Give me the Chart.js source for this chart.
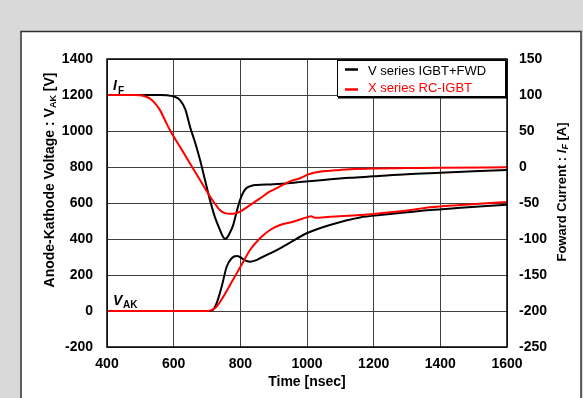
<!DOCTYPE html>
<html>
<head>
<meta charset="utf-8">
<script src="https://cdn.jsdelivr.net/npm/chart.js@4.4.1/dist/chart.umd.min.js"></script>
<style>
html,body{margin:0;padding:0;background:#d9d9d9;}
canvas{display:block;}
</style>
</head>
<body>
<canvas id="c" width="583" height="398"></canvas>
<script>
// ---- Data ----
const seriesNames = ["V series IGBT+FWD", "X series RC-IGBT"];
const xTicks = [400, 600, 800, 1000, 1200, 1400, 1600];
const leftTicks = [-200, 0, 200, 400, 600, 800, 1000, 1200, 1400];
const rightTicks = [-250, -200, -150, -100, -50, 0, 50, 100, 150];

// V series IGBT+FWD : forward current I_F [A]
const vIfTime = [400,500,560,580,600,619,635,649,665,679,694,709,724,739,748,754,762,770,779,789,799,809,819,834,849,900,979,1050,1129,1200,1300,1400,1500,1600];
const vIf     = [100,100,100,99.5,98,93,80,56,33,10,-18,-46,-70,-87.5,-97,-100,-97,-90,-80,-62,-46,-35,-29,-26,-25,-24,-21,-18,-15,-13,-10,-8,-6,-4];
// X series RC-IGBT : forward current I_F [A]
const xIfTime = [400,480,499,515,529,545,559,574,589,619,649,679,709,724,739,754,769,784,799,829,859,889,919,949,979,1000,1020,1039,1099,1129,1200,1300,1400,1600];
const xIf     = [100,100,99.5,98,95,88,79,65,51,28,5,-18,-41,-51,-60,-64,-65,-64.5,-62,-53,-43.5,-34,-27,-20,-15.7,-11,-8,-6.5,-4,-3,-2,-1.5,-1,-0.5];
// V series IGBT+FWD : anode-kathode voltage V_AK [V]
const vVakTime = [400,700,714,729,744,759,774,789,799,809,819,829,844,859,889,919,949,999,1069,1159,1219,1300,1369,1450,1600];
const vVak     = [0,0,2,44,135,246,293,305,300,287,278,274,280,293,320,348,380,432,478,520,533,548,561,572,590];
// X series RC-IGBT : anode-kathode voltage V_AK [V]
const xVakTime = [400,700,709,719,729,749,769,789,809,829,859,889,919,959,999,1012,1025,1069,1159,1219,1300,1369,1450,1600];
const xVak     = [0,0,2,10,24,80,144,209,274,339,404,450,478,496,520,526,518,524,533,543,558,576,588,605];

const pts = (t, v) => t.map((x, i) => ({x: x, y: v[i]}));

const FONT = "'Liberation Sans', Arial, sans-serif";

function drawRich(ctx, parts, x, y, angle) {
  ctx.save();
  ctx.translate(x, y);
  ctx.rotate(angle);
  let total = 0;
  parts.forEach(p => { ctx.font = p.font; total += ctx.measureText(p.t).width; });
  let cx = -total / 2;
  ctx.textBaseline = 'middle';
  ctx.textAlign = 'left';
  parts.forEach(p => {
    ctx.font = p.font;
    ctx.fillStyle = p.color || '#000';
    ctx.fillText(p.t, cx, p.dy || 0);
    cx += ctx.measureText(p.t).width;
  });
  ctx.restore();
}

const decor = {
  id: 'decor',
  beforeDraw(chart) {
    const ctx = chart.ctx;
    ctx.save();
    ctx.fillStyle = '#d9d9d9';
    ctx.fillRect(0, 0, chart.width, chart.height);
    ctx.fillStyle = '#ffffff';
    ctx.fillRect(21, 31, 560, 380);
    ctx.strokeStyle = '#303030';
    ctx.lineWidth = 1.5;
    ctx.strokeRect(21, 31.5, 560, 380);
    ctx.restore();
  },
  afterDatasetsDraw(chart) {
    const ctx = chart.ctx;
    const a = chart.chartArea;
    ctx.save();
    // frame
    ctx.strokeStyle = '#000';
    ctx.lineWidth = 1.5;
    ctx.strokeRect(a.left, a.top, a.right - a.left, a.bottom - a.top);
    // legend box
    ctx.fillStyle = '#fff';
    ctx.fillRect(337, 60, 169, 36);
    ctx.strokeStyle = '#000';
    ctx.lineWidth = 1;
    ctx.strokeRect(337.5, 60.5, 168, 36);
    ctx.lineWidth = 2;
    ctx.beginPath(); ctx.moveTo(506.5, 61); ctx.lineTo(506.5, 97.5); ctx.lineTo(338, 97.5); ctx.stroke();
    ctx.lineWidth = 2.5;
    ctx.strokeStyle = '#000';
    ctx.beginPath(); ctx.moveTo(345, 69.5); ctx.lineTo(358, 69.5); ctx.stroke();
    ctx.strokeStyle = '#ff0000';
    ctx.beginPath(); ctx.moveTo(345, 89.5); ctx.lineTo(358, 89.5); ctx.stroke();
    ctx.font = '13px ' + FONT;
    ctx.textBaseline = 'middle';
    ctx.textAlign = 'left';
    ctx.fillStyle = '#000';
    ctx.fillText(seriesNames[0], 368, 71);
    ctx.fillStyle = '#ff0000';
    ctx.fillText(seriesNames[1], 368, 88);
    // curve annotations
    ctx.fillStyle = '#000';
    ctx.textBaseline = 'alphabetic';
    ctx.font = 'italic bold 14px ' + FONT;
    ctx.fillText('I', 113, 90);
    ctx.font = 'bold 10px ' + FONT;
    ctx.fillText('F', 118, 94);
    ctx.font = 'italic bold 14px ' + FONT;
    ctx.fillText('V', 113, 305);
    ctx.font = 'bold 10px ' + FONT;
    ctx.fillText('AK', 123, 308);
    ctx.restore();
    // axis titles
    drawRich(ctx, [
      {t: 'Anode-Kathode Voltage : ', font: 'bold 14px ' + FONT},
      {t: 'V', font: 'bold 14px ' + FONT},
      {t: 'AK', font: 'bold 9px ' + FONT, dy: 4},
      {t: ' [V]', font: 'bold 14px ' + FONT}
    ], 50, 180, -Math.PI / 2);
    drawRich(ctx, [
      {t: 'Foward Current : ', font: 'bold 13px ' + FONT},
      {t: 'I', font: 'italic bold 13px ' + FONT},
      {t: 'F', font: 'italic bold 9px ' + FONT, dy: 4},
      {t: ' [A]', font: 'bold 13px ' + FONT}
    ], 562, 192, -Math.PI / 2);
    drawRich(ctx, [
      {t: 'Time [nsec]', font: 'bold 14px ' + FONT}
    ], 307, 382, 0);
  }
};

Chart.defaults.color = '#000';
Chart.defaults.font.family = FONT;

const plain = v => String(v);

new Chart(document.getElementById('c'), {
  type: 'line',
  data: {
    datasets: [
      {label: seriesNames[0] + ' I_F', data: pts(vIfTime, vIf), yAxisID: 'y2', borderColor: '#000', order: 2},
      {label: seriesNames[1] + ' I_F', data: pts(xIfTime, xIf), yAxisID: 'y2', borderColor: '#ff0000', order: 1},
      {label: seriesNames[0] + ' V_AK', data: pts(vVakTime, vVak), yAxisID: 'y', borderColor: '#000', order: 2},
      {label: seriesNames[1] + ' V_AK', data: pts(xVakTime, xVak), yAxisID: 'y', borderColor: '#ff0000', order: 1}
    ]
  },
  options: {
    responsive: false,
    animation: false,
    layout: {padding: {top: 59, left: 0, right: 0, bottom: 0}},
    elements: {
      point: {radius: 0},
      line: {borderWidth: 2, cubicInterpolationMode: 'monotone', fill: false}
    },
    plugins: {legend: {display: false}, tooltip: {enabled: false}},
    scales: {
      x: {
        type: 'linear', min: 400, max: 1600,
        afterFit: s => { s.height = 51; },
        afterBuildTicks: s => { s.ticks = xTicks.map(v => ({value: v})); },
        ticks: {font: {size: 14, weight: 'bold'}, padding: 9, maxRotation: 0, callback: plain},
        grid: {color: '#404040', lineWidth: 1, drawTicks: false},
        border: {display: false}
      },
      y: {
        type: 'linear', position: 'left', min: -200, max: 1400,
        afterFit: s => { s.width = 107; },
        afterBuildTicks: s => { s.ticks = leftTicks.map(v => ({value: v})); },
        ticks: {font: {size: 14, weight: 'bold'}, padding: 14, callback: plain},
        grid: {color: '#404040', lineWidth: 1, drawTicks: false},
        border: {display: false}
      },
      y2: {
        type: 'linear', position: 'right', min: -250, max: 150,
        afterFit: s => { s.width = 76; },
        afterBuildTicks: s => { s.ticks = rightTicks.map(v => ({value: v})); },
        ticks: {font: {size: 14, weight: 'bold'}, padding: 12, callback: plain},
        grid: {drawOnChartArea: false, drawTicks: false},
        border: {display: false}
      }
    }
  },
  plugins: [decor]
});
</script>
</body>
</html>
